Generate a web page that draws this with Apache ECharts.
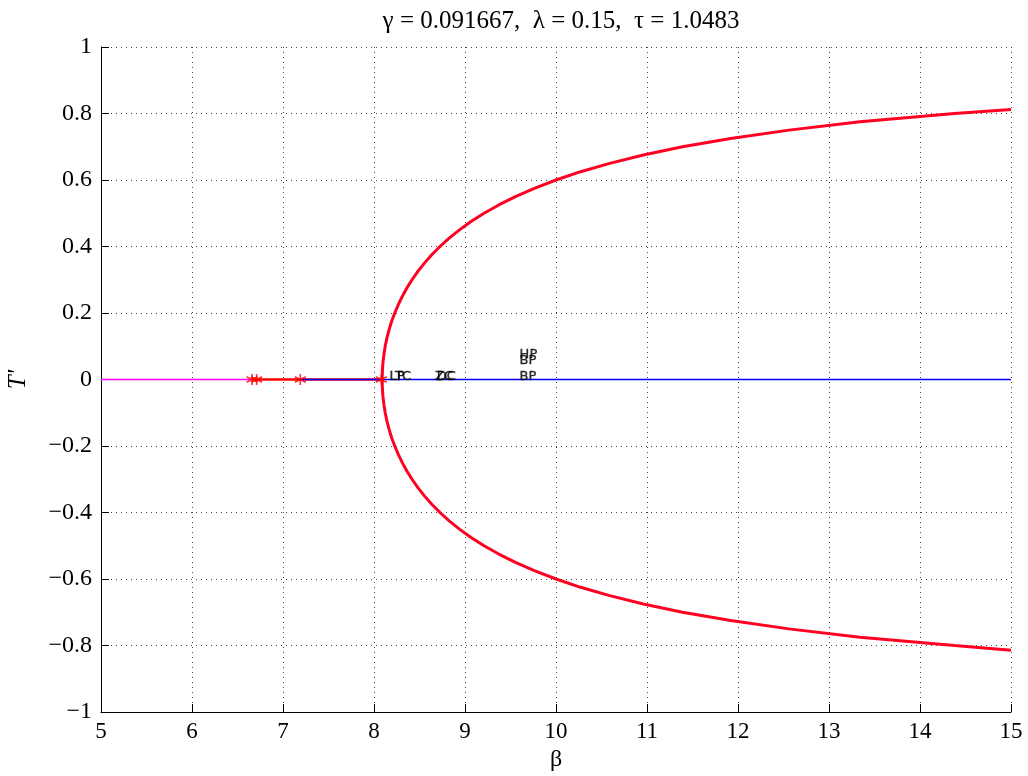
<!DOCTYPE html>
<html>
<head>
<meta charset="utf-8">
<script src="https://cdn.jsdelivr.net/npm/echarts@6/dist/echarts.min.js"></script>
<style>html,body{margin:0;padding:0;background:#fff}#c{width:1028px;height:776px}</style>
</head>
<body>
<div id="c"></div>
<script>
// Upper branch of the pitchfork (beta, T')
const upperBeta = [8.09, 8.092, 8.098, 8.109, 8.123, 8.142, 8.166, 8.194, 8.228, 8.267, 8.311, 8.361, 8.418, 8.482, 8.554, 8.635, 8.725, 8.826, 8.939, 9.066, 9.209, 9.371, 9.554, 9.762, 10.0, 10.27, 10.59, 10.96, 11.39, 11.92, 12.56, 13.34, 14.38, 15.0];
const upperT    = [0.0, 0.025, 0.05, 0.075, 0.1, 0.125, 0.15, 0.175, 0.2, 0.225, 0.25, 0.275, 0.3, 0.325, 0.35, 0.375, 0.4, 0.425, 0.45, 0.475, 0.5, 0.525, 0.55, 0.575, 0.6, 0.625, 0.65, 0.675, 0.7, 0.725, 0.75, 0.775, 0.8, 0.812];
// Lower branch
const lowerBeta = [8.09, 8.092, 8.098, 8.109, 8.123, 8.142, 8.166, 8.194, 8.228, 8.267, 8.311, 8.361, 8.418, 8.482, 8.554, 8.635, 8.725, 8.826, 8.939, 9.066, 9.209, 9.371, 9.554, 9.762, 10.0, 10.27, 10.59, 10.96, 11.39, 11.92, 12.56, 13.34, 14.38, 15.0];
const lowerT    = [0.0, -0.025, -0.05, -0.075, -0.1, -0.125, -0.15, -0.175, -0.2, -0.225, -0.25, -0.275, -0.3, -0.325, -0.35, -0.375, -0.4, -0.425, -0.45, -0.475, -0.5, -0.525, -0.55, -0.575, -0.6, -0.625, -0.65, -0.675, -0.7, -0.725, -0.75, -0.775, -0.8, -0.814];
// trivial branch segments on T' = 0
const magentaSeg = [[5, 0], [6.66, 0]];
const redSeg     = [[6.66, 0], [8.09, 0]];
const blueSeg    = [[7.19, 0], [15, 0]];
// special points (asterisks)
const starBeta = [6.66, 6.71, 7.19, 8.08];
const starT    = [0, 0, 0, 0];
// labels
const labelText = ['LP', 'TC', 'ZC', 'DC', 'HP', 'BP', 'BP'];
const labelBeta = [8.17, 8.23, 8.67, 8.69, 9.6, 9.6, 9.6];
const labelT    = [0, 0, 0, 0, 0.066, 0.048, 0];

const xTicks = [5, 6, 7, 8, 9, 10, 11, 12, 13, 14, 15];
const yTicks = [-1, -0.8, -0.6, -0.4, -0.2, 0, 0.2, 0.4, 0.6, 0.8, 1];

const chart = echarts.init(document.getElementById('c'), null, {renderer: 'canvas'});
const serif = '"Liberation Serif", "DejaVu Serif", serif';

const upper = upperBeta.map((b, i) => [b, upperT[i]]);
const lower = lowerBeta.map((b, i) => [b, lowerT[i]]);
const branch = lower.slice().reverse().concat(upper.slice(1));

const asterisk = 'path://M0,-10L0,10M-8.66,-5L8.66,5M-8.66,5L8.66,-5';

chart.setOption({
  animation: false,
  title: {
    text: 'γ = 0.091667,  λ = 0.15,  τ = 1.0483',
    left: 556, top: 4, textAlign: 'center',
    textStyle: {fontFamily: serif, fontSize: 25, fontWeight: 'normal', color: '#000'}
  },
  grid: {left: 101, right: 17, top: 47, bottom: 64, containLabel: false, outerBoundsMode: 'none'},
  xAxis: {
    type: 'value', min: xTicks[0], max: xTicks[xTicks.length - 1], interval: 1,
    name: 'β', nameLocation: 'middle', nameGap: 36,
    nameTextStyle: {fontFamily: serif, fontSize: 24, color: '#000'},
    axisLine: {onZero: false, lineStyle: {color: '#000', width: 1}},
    axisTick: {inside: true, length: 8, lineStyle: {color: '#000'}},
    axisLabel: {fontFamily: serif, fontSize: 23, color: '#000', margin: 8},
    splitLine: {show: true, lineStyle: {color: '#444', width: 1, type: [1, 4]}}
  },
  yAxis: {
    type: 'value', min: yTicks[0], max: yTicks[yTicks.length - 1], interval: 0.2,
    name: 'T\'', nameLocation: 'middle', nameGap: 70, nameRotate: 90,
    nameTextStyle: {fontFamily: serif, fontSize: 25, fontStyle: 'italic', color: '#000'},
    axisLine: {onZero: false, lineStyle: {color: '#000', width: 1}},
    axisTick: {inside: true, length: 8, lineStyle: {color: '#000'}},
    axisLabel: {fontFamily: serif, fontSize: 24, color: '#000', margin: 9,
      formatter: v => String(Math.round(v * 10) / 10).replace('-', '−')},
    splitLine: {show: true, lineStyle: {color: '#444', width: 1, type: [1, 4]}}
  },
  series: [
    {type: 'line', data: magentaSeg, symbol: 'none', lineStyle: {color: '#ff00ff', width: 1.3}, z: 2},
    {type: 'line', data: redSeg, symbol: 'none', lineStyle: {color: '#ff0000', width: 2.5}, z: 3},
    {type: 'line', data: blueSeg, symbol: 'none', lineStyle: {color: '#0000ff', width: 1.4}, z: 4},
    {type: 'line', data: branch, symbol: 'none', smooth: false, lineStyle: {color: '#ff0022', width: 3}, z: 5},
    {type: 'scatter', data: starBeta.map((b, i) => [b, starT[i]]), symbol: asterisk, symbolSize: 11,
      itemStyle: {color: 'rgba(0,0,0,0)', borderColor: '#ff0000', borderWidth: 1.6}, z: 6},
    {type: 'scatter', data: labelBeta.map((b, i) => [b, labelT[i], labelText[i]]), symbolSize: 0,
      label: {show: true, position: 'right', distance: 0, offset: [0, -3],
        formatter: p => p.data[2], fontFamily: '"DejaVu Sans", sans-serif',
        fontSize: 13, color: '#000', textBorderColor: '#000', textBorderWidth: 0.4}, z: 7}
  ]
});
</script>
</body>
</html>
